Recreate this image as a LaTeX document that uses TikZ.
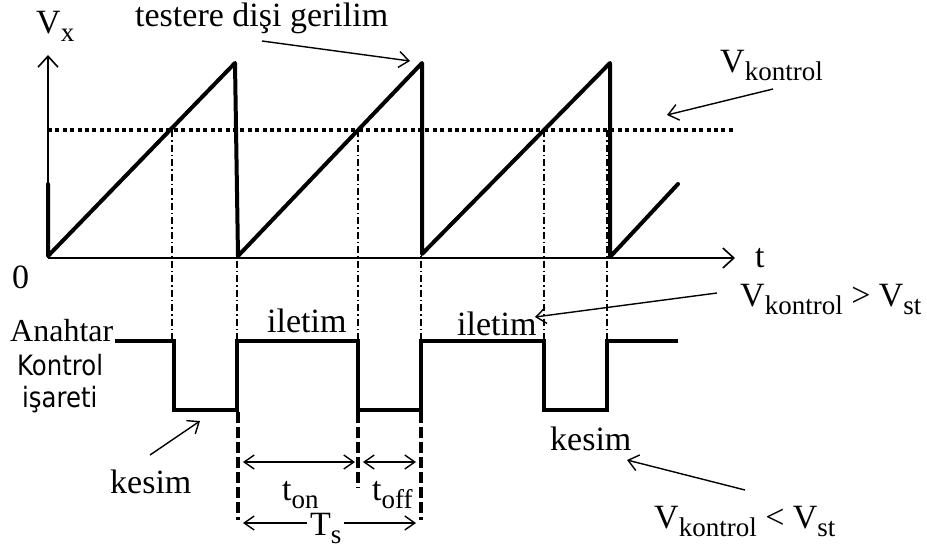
\documentclass[tikz,border=0pt]{standalone}
\usepackage{fontspec}
\setmainfont{Liberation Serif}
\newfontfamily\sansfnt[FakeStretch=0.87]{DejaVu Sans}
\usetikzlibrary{arrows.meta}
\newcommand{\sbs}[1]{\raisebox{-0.24em}{\fontsize{27}{30}\selectfont #1}}
\tikzset{
  wave/.style={line width=4pt, line join=round, line cap=round},
  pulse/.style={line width=4pt, line join=miter},
  axisline/.style={line width=1.8pt, -{Straight Barb[length=11pt,width=20pt,line width=1.6pt]}},
  ann/.style={line width=1.4pt, -{Straight Barb[length=10pt,width=16pt,line width=1.4pt]}},
  dimline/.style={line width=1.4pt, {Straight Barb[length=10pt,width=14pt,line width=1.4pt]}-{Straight Barb[length=10pt,width=14pt,line width=1.4pt]}},
  lbl/.style={font=\fontsize{34}{40}\selectfont, inner sep=0pt, anchor=base west},
  slbl/.style={inner sep=0pt, anchor=base west},
  guide/.style={line width=1.1pt, dash pattern=on 7pt off 3pt on 1.5pt off 3pt},
  ctrl/.style={line width=3.6pt, dash pattern=on 4pt off 3.4pt},
  tickline/.style={line width=3.6pt, dash pattern=on 11pt off 4pt}
}
\begin{document}
\begin{tikzpicture}[x=1pt,y=-1pt]
\useasboundingbox (0,0) rectangle (927,549);

% axes
\coordinate (O) at (48,258);
\coordinate (ytop) at (48,55);
\coordinate (xend) at (735,258);
\draw[axisline] (O) -- (ytop);
\draw[axisline] (O) -- (xend);

% control level (dotted)
\coordinate (c0) at (48,130);
\coordinate (c1) at (735,130);
\draw[ctrl] (c0) -- (c1);

% sawtooth
\draw[wave] (48,184) -- (48,256) -- (235,63) -- (238,256) -- (422,63) -- (422,254) -- (610,63) -- (610,257) -- (678,184);

% guides
\foreach \gx in {172,237,358,421,544,607}{
  \draw[guide] (\gx,130) -- (\gx,340);
}

% pulse train
\draw[pulse] (115,341) -- (174,341) -- (174,410) -- (237,410) -- (237,341) -- (358,341) -- (358,410) -- (421,410) -- (421,341) -- (544,341) -- (544,410) -- (607,410) -- (607,341) -- (678,341);

% thick dashed markers
\draw[tickline] (238,412) -- (238,520);
\draw[tickline] (358,412) -- (358,488);
\draw[tickline] (421,412) -- (421,520);

% dimension arrows
\coordinate (on0) at (243,462);
\coordinate (on1) at (355,462);
\coordinate (off0) at (363,462);
\coordinate (off1) at (416,462);
\coordinate (ts0) at (243,523);
\coordinate (ts1) at (416,523);
\draw[dimline] (on0) -- (on1);
\draw[dimline] (off0) -- (off1);
\draw[dimline] (ts0) -- (ts1);

% labels
\node[lbl] (vx) at (36,33) {V\sbs{x}};
\node[lbl] (saw) at (135,26) {testere dişi gerilim};
\node[lbl] (vk) at (720,72) {V\sbs{kontrol}};
\node[lbl] (tl) at (755,267) {t};
\node[lbl] (zero) at (12,288) {0};
\node[lbl, font=\fontsize{32}{38}\selectfont] (anah) at (10,341) {Anahtar};
\node[slbl] (kont) at (17,375) {\sansfnt\fontsize{28}{32}\selectfont Kontrol};
\node[slbl] (isar) at (22,407) {\sansfnt\fontsize{28}{32}\selectfont işareti};
\node[lbl] (il1) at (267,332) {iletim};
\node[lbl] (il2) at (457,335) {iletim};
\node[lbl] (ke1) at (110,493) {kesim};
\node[lbl] (ke2) at (550,450) {kesim};
\node[lbl] (gt) at (740,306) {V\sbs{kontrol} > V\sbs{st}};
\node[lbl] (lt) at (654,528) {V\sbs{kontrol} < V\sbs{st}};
\node[lbl] (ton) at (282,500) {t\sbs{on}};
\node[lbl] (toff) at (372,500) {t\sbs{off}};
\node[lbl, fill=white, inner xsep=3pt] (tsl) at (307,535) {T\sbs{s}};

% annotation arrows
\coordinate (a1s) at (262,41);  \coordinate (a1e) at (410,61);
\coordinate (a2s) at (773,89);  \coordinate (a2e) at (667,115);
\coordinate (a3s) at (717,293); \coordinate (a3e) at (535,317);
\coordinate (a4s) at (745,490); \coordinate (a4e) at (627,460);
\coordinate (a5s) at (150,455); \coordinate (a5e) at (200,421);
\draw[ann] (a1s) -- (a1e);
\draw[ann] (a2s) -- (a2e);
\draw[ann] (a3s) -- (a3e);
\draw[ann] (a4s) -- (a4e);
\draw[ann] (a5s) -- (a5e);
\end{tikzpicture}
\end{document}
